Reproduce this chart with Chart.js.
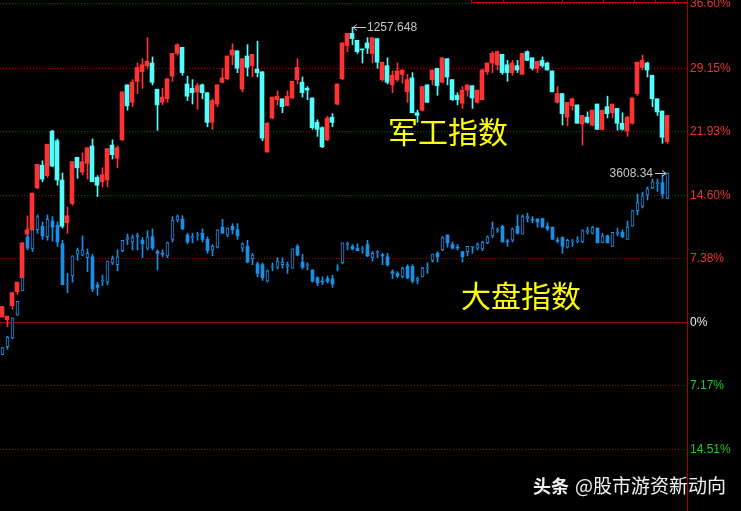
<!DOCTYPE html>
<html><head><meta charset="utf-8">
<script src="https://cdn.jsdelivr.net/npm/chart.js@4.4.1/dist/chart.umd.min.js"></script>
<style>html,body{margin:0;padding:0;background:#000;overflow:hidden}canvas{display:block}</style>
</head><body>
<canvas id="c" width="741" height="511"></canvas>
<script>
// ---- 军工指数 (percent change) ----
const jgOpen=[0.6,0.3,1.9,3.5,5.1,10.1,10.6,15.4,18.0,16.8,
21.9,20.8,16.3,11.4,13.6,18.9,17.2,18.2,20.2,16.6,
16.1,16.3,20.3,18.8,20.9,27.2,25.2,27.6,28.7,29.4,
29.7,26.7,25.2,25.6,28.2,30.8,31.5,27.3,26.8,26.4,
27.2,26.3,22.9,25.0,27.5,27.9,30.6,31.1,26.7,30.5,
29.4,29.0,28.7,19.5,23.4,25.5,25.6,24.8,25.7,27.8,
27.5,26.8,25.7,22.9,22.3,20.9,23.5,25.0,27.9,31.7,
33.1,32.3,31.3,32.0,30.8,32.5,27.8,29.4,27.2,27.8,
28.4,26.4,28.0,24.0,24.3,27.2,27.8,29.1,27.5,30.2,
27.8,26.0,25.1,26.6,27.1,25.2,25.5,28.7,29.7,29.5,
30.7,29.5,28.6,29.4,28.4,31.0,30.3,29.1,30.0,29.7,
28.8,25.2,26.2,23.5,24.8,24.9,22.7,23.5,22.6,25.0,
22.1,24.7,24.0,24.5,22.8,21.9,22.8,26.2,29.2,29.7,
28.3,25.6,24.2,20.7];
const jgHigh=[1.8,0.7,3.4,4.6,9.1,12.2,14.8,18.1,18.5,20.4,
22.0,21.0,17.1,13.2,18.4,18.9,19.4,20.0,21.0,16.8,
17.7,19.9,20.9,20.2,26.4,27.2,27.8,29.7,30.2,32.6,
30.4,26.7,26.8,27.9,30.8,31.9,31.5,28.2,27.8,27.4,
27.3,26.3,25.6,27.2,29.1,30.5,31.9,31.1,30.2,31.8,
30.7,32.2,28.7,22.9,25.8,26.5,25.6,26.5,27.6,30.2,
28.1,27.0,25.7,23.2,22.4,23.6,23.9,27.3,32.0,33.1,
33.8,32.3,31.3,32.6,32.6,32.5,29.8,30.3,28.8,29.7,
28.9,28.4,28.6,24.3,27.0,27.2,28.9,29.1,30.3,30.2,
27.8,26.3,27.0,27.2,27.1,26.6,29.0,29.7,31.0,31.1,
30.7,30.0,30.0,30.0,30.8,31.1,30.3,29.9,30.4,29.8,
28.8,27.0,26.2,25.2,25.7,24.9,23.7,24.1,24.3,25.0,
24.3,25.9,25.0,24.5,24.0,23.6,25.7,29.8,30.6,29.8,
28.3,25.6,24.2,23.7];
const jgLow=[0.6,-0.5,1.5,3.2,5.1,10.0,10.6,15.3,16.1,16.6,
17.8,15.7,10.8,10.2,13.4,16.5,16.9,16.4,16.1,14.4,
15.5,15.5,18.7,17.7,20.8,24.3,24.7,26.2,26.8,29.1,
27.2,22.0,24.9,25.2,27.6,30.6,28.3,25.4,25.0,24.4,
25.6,22.4,22.1,24.7,27.4,27.8,29.5,28.6,26.4,28.2,
28.1,28.1,20.8,19.5,23.3,24.9,24.0,24.8,25.6,27.3,
25.8,25.5,22.1,21.3,20.0,20.8,22.4,24.9,27.8,31.0,
31.8,30.8,29.7,30.8,29.7,29.1,27.6,27.3,26.3,27.6,
27.4,25.2,24.0,22.9,24.2,25.2,27.2,26.0,27.4,27.2,
25.4,24.9,24.5,25.9,24.5,25.1,25.5,28.4,28.6,28.9,
28.4,27.6,28.3,28.6,28.4,30.0,28.9,28.6,29.2,28.9,
26.4,25.1,22.6,22.5,24.3,22.8,20.3,22.8,22.5,22.1,
22.0,23.4,23.4,22.0,22.0,21.3,22.7,26.0,28.9,28.1,
24.7,23.7,20.5,20.5];
const jgClose=[1.8,0.7,3.4,4.6,9.1,10.6,14.8,18.1,16.4,20.4,
17.9,16.3,11.0,12.2,18.4,17.7,18.4,20.0,16.1,15.7,
16.9,19.9,19.2,20.0,26.4,24.8,27.5,29.2,29.5,29.9,
27.5,24.9,25.8,27.9,30.8,31.8,28.6,25.9,26.3,27.1,
26.3,22.9,25.4,27.2,28.0,30.5,31.2,29.1,30.2,29.2,
30.7,28.6,21.1,22.8,25.8,25.9,24.7,25.9,27.6,29.2,
26.3,26.6,22.3,22.1,20.1,23.4,22.9,27.3,32.0,33.1,
32.5,31.0,31.2,31.4,32.6,29.8,29.8,27.5,28.3,28.8,
28.9,27.8,24.0,23.7,27.0,25.2,28.9,27.1,30.3,28.1,
25.5,25.5,26.6,27.2,25.7,26.6,28.9,29.7,30.8,31.0,
28.6,28.6,29.7,28.9,30.8,30.0,29.1,29.9,29.4,28.9,
26.4,26.2,23.9,25.2,25.6,22.8,23.7,22.9,24.3,22.1,
24.3,23.9,25.0,22.8,22.1,23.5,25.7,29.8,30.0,28.9,
25.6,24.1,21.2,23.7];

// ---- 大盘指数 (percent change) ----
const dpOpen=[-3.7,-2.8,-1.8,0.8,3.6,9.8,8.4,10.6,11.0,9.8,
11.6,11.1,9.0,4.4,5.3,7.8,7.7,7.4,7.5,4.3,
4.7,4.6,6.8,6.6,8.2,9.5,9.2,9.8,9.4,8.5,
9.8,8.1,7.9,7.6,9.5,11.7,11.8,10.0,9.7,9.9,
10.2,9.5,8.3,8.6,10.9,10.0,11.0,10.6,8.5,8.7,
7.3,6.7,6.6,4.7,6.3,6.3,6.6,6.4,6.2,8.7,
6.9,6.6,6.0,5.1,4.7,5.0,5.0,6.1,6.8,8.9,
8.7,8.5,8.3,8.9,7.4,8.1,7.7,7.5,5.8,5.6,
5.2,6.4,6.4,4.8,5.2,6.2,7.1,7.9,8.3,10.0,
8.9,8.6,8.1,8.1,8.6,8.5,8.4,9.1,9.9,10.5,
11.0,9.3,9.4,11.0,10.1,11.9,11.8,11.8,11.9,11.0,
10.9,9.4,9.7,8.6,9.3,9.3,9.2,10.5,10.2,10.8,
9.1,9.9,8.7,10.3,10.3,9.5,11.0,12.8,13.3,14.6,
15.4,16.0,16.0,14.2];
const dpHigh=[-2.9,-1.6,0.5,2.4,8.4,10.8,11.1,12.3,11.5,12.3,
12.1,11.5,9.4,5.6,7.6,8.5,9.9,8.4,7.8,4.6,
5.4,7.0,7.6,8.3,9.4,10.1,10.0,10.2,9.7,10.5,
10.7,8.3,8.3,9.2,12.1,12.3,12.2,10.2,10.2,10.3,
10.7,9.8,8.9,10.6,11.8,10.8,11.3,11.3,9.1,9.4,
7.9,6.9,6.8,6.0,6.8,7.4,7.4,6.9,8.4,8.9,
7.8,6.8,6.0,5.2,5.2,5.3,5.4,6.6,9.1,9.2,
8.9,9.0,8.7,9.4,8.1,8.2,7.9,7.9,6.0,5.8,
6.3,6.6,6.6,5.2,6.3,6.8,7.8,8.1,9.8,10.0,
9.2,8.9,8.1,8.7,8.7,9.1,9.3,9.9,11.5,10.8,
11.1,9.5,10.8,12.3,12.3,12.5,12.1,11.9,11.9,11.4,
10.9,9.7,9.8,9.5,9.5,9.8,10.6,10.9,11.0,10.8,
10.2,10.0,10.3,10.8,10.6,11.6,12.8,14.7,14.9,15.5,
16.4,16.4,16.9,17.1];
const dpLow=[-3.7,-3.1,-1.9,0.8,3.6,8.3,8.1,10.2,9.5,9.4,
9.3,8.7,4.3,3.4,4.6,7.1,7.6,5.8,3.5,3.1,
4.2,4.3,6.6,5.9,8.1,8.9,8.3,8.3,7.4,8.3,
8.3,6.0,7.5,7.4,9.2,11.5,10.6,9.0,9.1,9.4,
9.2,7.9,7.6,8.5,10.2,9.8,10.1,9.5,8.1,6.8,
6.6,5.2,4.8,4.6,5.9,6.1,6.2,5.6,6.2,7.6,
6.1,6.0,4.6,4.2,4.3,4.5,4.0,5.9,6.7,8.3,
8.3,8.2,7.9,7.5,7.0,7.4,6.6,6.4,5.0,5.1,
5.1,5.0,4.5,4.4,5.2,5.6,6.9,6.9,8.2,8.6,
8.4,8.3,6.9,7.6,7.9,8.3,8.2,9.0,9.7,10.3,
9.2,8.7,9.2,10.1,10.1,11.5,11.4,10.9,10.9,10.5,
9.5,9.1,7.9,8.5,8.7,9.1,9.1,10.1,10.1,9.1,
9.1,9.1,8.7,9.9,9.7,9.5,11.0,12.3,13.1,14.0,
15.3,15.0,14.2,14.2];
const dpClose=[-2.9,-1.7,0.5,2.4,8.4,8.5,10.6,12.1,9.9,11.8,
10.9,9.2,4.3,4.4,7.6,8.2,8.3,7.9,3.8,4.0,
4.8,7.0,7.3,7.5,9.4,9.7,9.7,10.0,9.0,9.8,
8.5,7.9,7.8,9.1,11.7,12.1,10.7,9.2,9.8,10.0,
9.5,8.2,8.7,10.6,10.2,10.8,10.6,9.9,9.0,6.9,
7.7,5.6,5.1,5.9,6.4,7.0,6.9,6.6,8.4,7.7,
6.3,6.6,4.7,4.5,4.6,4.7,4.4,6.2,9.1,9.0,
8.4,8.2,8.4,7.6,7.9,8.1,7.6,6.6,5.6,5.3,
6.2,5.1,4.7,5.0,6.2,6.3,7.8,7.5,9.7,9.1,
8.5,8.5,7.5,8.7,8.7,8.9,9.2,9.8,10.8,10.6,
9.2,9.2,10.7,10.2,12.1,12.1,11.7,11.5,10.9,10.7,
9.5,9.3,8.7,9.4,9.3,9.4,10.5,10.5,10.9,9.1,
9.9,9.1,10.3,10.3,9.8,10.9,12.8,13.7,14.5,15.3,
16.1,16.0,14.7,17.1];

const tickValues=[36.60,29.15,21.93,14.60,7.38,0,-7.17,-14.51];
const tickLabels=['36.60%','29.15%','21.93%','14.60%','7.38%','0%','7.17%','14.51%'];
const seriesNames=['军工指数','大盘指数'];
const jgPeakIndex=70, jgPeakLabel='1257.648';
const dpLastIndex=133, dpLastLabel='3608.34';
const watermarkA='头条', watermarkB='@股市游资新动向';

const days=jgOpen.map((_,i)=>i);
const RED='#ff3333', CYAN='#55fcfc', BLUE='#1b8fe3';
const jgUp=i=>jgClose[i]>=jgOpen[i];
const dpUp=i=>dpClose[i]>=dpOpen[i];
const mk=(a,b)=>days.map(i=>({x:i,y:[a[i],b[i]]}));
const jgCol=c=>jgUp(c.dataIndex)?RED:CYAN;

const overlay={
  id:'overlay',
  beforeDraw(chart){
    const ctx=chart.ctx;ctx.save();ctx.fillStyle='#000';ctx.fillRect(0,0,chart.width,chart.height);ctx.restore();
  },
  beforeDatasetsDraw(chart){
    const ctx=chart.ctx, y=chart.scales.y, a=chart.chartArea;
    ctx.save();
    tickValues.forEach(v=>{
      const py=Math.round(y.getPixelForValue(v))+0.5;
      ctx.beginPath();
      if(v===0){ctx.setLineDash([]);ctx.strokeStyle='#a00000';}
      else{ctx.setLineDash([1,2]);ctx.strokeStyle='#b80000';}
      ctx.lineWidth=1;ctx.moveTo(a.left,py);ctx.lineTo(a.right,py);ctx.stroke();
    });
    ctx.restore();
  },
  afterDraw(chart){
    const ctx=chart.ctx, y=chart.scales.y, xb=chart.scales.xb, a=chart.chartArea;
    ctx.save();
    // top frame segment
    ctx.strokeStyle='#c00000';ctx.lineWidth=1;ctx.setLineDash([]);
    ctx.beginPath();ctx.moveTo(471,2.5);ctx.lineTo(a.right,2.5);ctx.stroke();
    [471,503,562,603,634,655,674].forEach(px=>{ctx.beginPath();ctx.moveTo(px+0.5,0);ctx.lineTo(px+0.5,3);ctx.stroke();});
    // labels
    ctx.font='30px "Noto Sans CJK SC"';ctx.fillStyle='#ffff00';ctx.textBaseline='middle';ctx.textAlign='left';
    ctx.fillText(seriesNames[0],388,132);
    ctx.fillText(seriesNames[1],461,296);
    // annotations
    ctx.font='12px "Liberation Sans", Arial';ctx.fillStyle='#c8c8c8';ctx.strokeStyle='#c8c8c8';
    let tx=Math.round(xb.getPixelForValue(jgPeakIndex)), ty=Math.round(y.getPixelForValue(jgHigh[jgPeakIndex]))+0.5;
    ctx.beginPath();ctx.moveTo(tx+1,ty);ctx.lineTo(tx+14,ty);ctx.moveTo(tx+1,ty);ctx.lineTo(tx+5,ty-3);ctx.moveTo(tx+1,ty);ctx.lineTo(tx+5,ty+3);ctx.stroke();
    ctx.textAlign='left';ctx.fillText(jgPeakLabel,tx+15,ty+0.5);
    tx=Math.round(xb.getPixelForValue(dpLastIndex)); ty=Math.round(y.getPixelForValue(dpHigh[dpLastIndex]))+0.5;
    ctx.beginPath();ctx.moveTo(tx-12,ty);ctx.lineTo(tx-1,ty);ctx.moveTo(tx-1,ty);ctx.lineTo(tx-5,ty-3);ctx.moveTo(tx-1,ty);ctx.lineTo(tx-5,ty+3);ctx.stroke();
    ctx.textAlign='right';ctx.fillText(dpLastLabel,tx-14,ty+0.5);
    // watermark
    ctx.fillStyle='#f2f2f2';ctx.textAlign='left';
    ctx.font='bold 18px "Noto Sans CJK SC"';ctx.fillText(watermarkA,533,486);
    ctx.font='19px "Noto Sans CJK SC"';ctx.fillText(watermarkB,575,486);
    // right axis line
    ctx.strokeStyle='#a00000';ctx.beginPath();ctx.moveTo(a.right+0.5,0);ctx.lineTo(a.right+0.5,chart.height);ctx.stroke();
    // tick labels
    ctx.font='12px "Liberation Sans", Arial';ctx.textAlign='left';ctx.textBaseline='middle';
    tickValues.forEach((v,k)=>{
      ctx.fillStyle=v>0?'#e8342f':(v<0?'#22c922':'#eeeeee');
      ctx.fillText(tickLabels[k],a.right+3,y.getPixelForValue(v)+0.5);
    });
    ctx.restore();
  }
};

new Chart(document.getElementById('c'),{
  type:'bar',
  data:{datasets:[
    {label:'大盘影线',data:mk(dpLow,dpHigh),xAxisID:'x',barThickness:1,grouped:false,backgroundColor:BLUE,borderWidth:0,order:4},
    {label:'大盘指数',data:mk(dpOpen,dpClose),xAxisID:'x',barThickness:3,grouped:false,minBarLength:1,
      backgroundColor:c=>dpUp(c.dataIndex)?'#000':BLUE,borderColor:BLUE,borderWidth:c=>dpUp(c.dataIndex)?1:0,borderSkipped:false,order:3},
    {label:'军工影线',data:mk(jgLow,jgHigh),xAxisID:'x',barThickness:1,grouped:false,backgroundColor:jgCol,borderWidth:0,order:2},
    {label:'军工指数',data:mk(jgOpen,jgClose),xAxisID:'xb',barThickness:4,grouped:false,minBarLength:1,backgroundColor:jgCol,borderWidth:0,order:1}
  ]},
  options:{
    responsive:false,animation:false,devicePixelRatio:1,events:[],
    layout:{padding:0},
    plugins:{legend:{display:false},tooltip:{enabled:false}},
    scales:{
      x:{type:'linear',axis:'x',min:-0.5,max:136.9,offset:false,display:false},
      xb:{type:'linear',axis:'x',min:-0.4,max:137.0,offset:false,display:false},
      y:{type:'linear',position:'right',min:-21.62,max:36.92,
         ticks:{display:false},grid:{display:false},border:{display:false},
         afterFit:s=>{s.width=54;}}
    }
  },
  plugins:[overlay]
});
</script>
</body></html>
